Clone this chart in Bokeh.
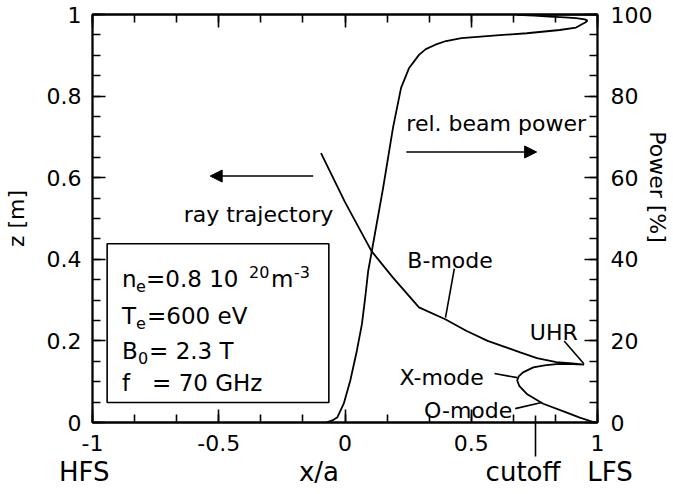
from bokeh.plotting import figure
from bokeh.models import (Range1d, LinearAxis, SingleIntervalTicker, FixedTicker, Label,
                          Arrow, NormalHead, BoxAnnotation)
from bokeh.embed import file_html
from bokeh.resources import INLINE

# ---------------- data ----------------
# ray trajectory (x/a, z[m]) from LFS: O-mode -> cutoff -> X-mode -> UHR -> B-mode
ray_x = [0.99, 0.93, 0.876, 0.785, 0.72, 0.69, 0.682, 0.688, 0.705, 0.746, 0.79, 0.837, 0.90, 0.947,
         0.90, 0.837, 0.76, 0.694, 0.565, 0.48, 0.397, 0.293, 0.19, 0.105, 0.0, -0.095]
ray_z = [0.0, 0.012, 0.025, 0.046, 0.07, 0.09, 0.103, 0.113, 0.123, 0.135, 0.140, 0.143, 0.143, 0.142,
         0.145, 0.148, 0.158, 0.172, 0.20, 0.225, 0.253, 0.282, 0.355, 0.42, 0.54, 0.66]

# relative beam power (x/a, %) along the ray
pow_x = [1.0, 0.85, 0.68, 0.75, 0.81, 0.87, 0.915, 0.95, 0.96, 0.953, 0.915, 0.85, 0.72, 0.60,
         0.461, 0.40, 0.358, 0.32, 0.293, 0.254, 0.222, 0.19, 0.151, 0.105, 0.092, 0.080, 0.067,
         0.047, 0.021, -0.005, -0.03, -0.05, -0.075]
pow_p = [100, 100, 99.9, 99.7, 99.5, 99.3, 99.1, 98.8, 98.5, 98.1, 96.8, 96.2, 95.4, 94.9,
         94.2, 93.5, 92.6, 91.5, 90.1, 86.9, 82.0, 72.2, 57.5, 41.6, 37.2, 30.6, 24.1,
         17.6, 10.3, 4.6, 1.3, 0.5, 0.0]

x_ticks = [-1, -0.5, 0, 0.5, 1]
x_tick_labels = ["-1", "-0.5", "0", "0.5", "1"]
z_ticks = [0, 0.2, 0.4, 0.6, 0.8, 1]
z_tick_labels = ["0", "0.2", "0.4", "0.6", "0.8", "1"]
p_ticks = [0, 20, 40, 60, 80, 100]
p_tick_labels = ["0", "20", "40", "60", "80", "100"]

# second row under the x axis
NB = "\u00a0"
side_pos = [-1, -0.103, 0.705, 1]
side_labels = ["HFS" + NB * 2, "x/a", "cutoff", NB * 3 + "LFS"]
cutoff_x = [0.755]

FONT = "DejaVu Sans"
FS = "22px"
BFS = "23px"
SFS = "16px"

p = figure(width=673, height=494, x_range=Range1d(-1, 1), y_range=Range1d(0, 1),
           output_backend="svg", toolbar_location=None,
           min_border_left=87, min_border_right=71, min_border_top=14, min_border_bottom=72)
p.grid.visible = False
p.outline_line_color = "black"
p.outline_line_width = 1.8
p.background_fill_color = "white"
p.border_fill_color = "white"
p.extra_y_ranges = {"power": Range1d(0, 100)}


def style(ax, labels=True):
    ax.axis_line_width = 1.8
    ax.axis_line_color = "black"
    ax.major_tick_in = 13
    ax.major_tick_out = 0
    ax.minor_tick_in = 8
    ax.minor_tick_out = 0
    ax.major_tick_line_width = 1.6
    ax.minor_tick_line_width = 1.6
    ax.major_tick_line_color = "black"
    ax.minor_tick_line_color = "black"
    ax.major_label_text_font = FONT
    ax.major_label_text_font_size = FS
    ax.major_label_text_color = "black" if labels else None
    ax.axis_label_text_font = FONT
    ax.axis_label_text_font_size = FS
    ax.axis_label_text_font_style = "normal"
    ax.axis_label_text_color = "black"


# bottom frame ticks (no labels)
xa = p.xaxis[0]
xa.ticker = SingleIntervalTicker(interval=0.5, num_minor_ticks=3)
style(xa, labels=False)
xa.major_label_standoff = 0

# x tick labels
xb = LinearAxis(ticker=FixedTicker(ticks=x_ticks, minor_ticks=[]))
xb.major_label_overrides = dict(zip(x_ticks, x_tick_labels))
style(xb)
xb.axis_line_color = None
xb.major_tick_line_color = None
xb.minor_tick_line_color = None
xb.major_tick_in = 0
xb.minor_tick_in = 0
xb.major_label_standoff = 12
p.add_layout(xb, "below")

# HFS / x/a / cutoff / LFS row; the cutoff marker is an inward minor tick reaching the frame
xs = LinearAxis(ticker=FixedTicker(ticks=side_pos, minor_ticks=cutoff_x))
xs.major_label_overrides = dict(zip(side_pos, side_labels))
style(xs)
xs.axis_line_color = None
xs.major_tick_line_color = None
xs.minor_tick_line_color = "black"
xs.minor_tick_line_width = 1.6
xs.major_tick_in = 0
xs.minor_tick_in = 38
xs.minor_tick_out = 3
xs.major_label_standoff = 0
xs.major_label_text_font_size = "26px"
p.add_layout(xs, "below")

yl = p.yaxis[0]
yl.ticker = SingleIntervalTicker(interval=0.2, num_minor_ticks=4)
yl.major_label_overrides = dict(zip(z_ticks, z_tick_labels))
style(yl)
yl.major_label_standoff = 11
yl.axis_label = "z [m]"
yl.axis_label_standoff = 15

xt = LinearAxis(ticker=SingleIntervalTicker(interval=0.5, num_minor_ticks=3))
style(xt, labels=False)
xt.major_label_standoff = 0
p.add_layout(xt, "above")

yr = LinearAxis(y_range_name="power", ticker=SingleIntervalTicker(interval=20, num_minor_ticks=4))
yr.major_label_overrides = dict(zip(p_ticks, p_tick_labels))
style(yr)
yr.major_label_standoff = 13
yr.axis_label = "Power [%]" + NB * 9
yr.axis_label_standoff = -10
p.add_layout(yr, "right")

# curves
p.line(ray_x, ray_z, line_color="black", line_width=1.8)
p.line(pow_x, pow_p, line_color="black", line_width=1.8, y_range_name="power")

# parameter box
p.add_layout(BoxAnnotation(left=-0.942, right=-0.064, bottom=0.049, top=0.438,
                           fill_alpha=0, line_color="black", line_alpha=1.0, line_width=1.6))


def lab(text, x, y, dx=0, dy=0, size=FS, align="left"):
    p.add_layout(Label(x=x, y=y, x_offset=dx, y_offset=dy, text=text, text_font=FONT,
                       text_font_size=size, text_color="black", text_align=align,
                       text_baseline="alphabetic"))


bx = -0.883
# line 1: n_e=0.8 10^20 m^-3
lab("n", bx, 0.352, size=BFS)
lab("e", bx, 0.352, dx=14, dy=-7, size=SFS)
lab("=0.8 10", bx, 0.352, dx=24, size=BFS)
lab("20", bx, 0.352, dx=127, dy=7, size=SFS)
lab("m", bx, 0.352, dx=149, size=BFS)
lab("-3", bx, 0.352, dx=172, dy=7, size=SFS)
# line 2
lab("T", bx, 0.262, size=BFS)
lab("e", bx, 0.262, dx=14, dy=-7, size=SFS)
lab("=600 eV", bx, 0.262, dx=25, size=BFS)
# line 3
lab("B", bx, 0.176, size=BFS)
lab("0", bx, 0.176, dx=16, dy=-7, size=SFS)
lab("= 2.3 T", bx, 0.176, dx=27, size=BFS)
# line 4
lab("f", bx, 0.098, size=BFS)
lab("= 70 GHz", bx, 0.098, dx=30, size=BFS)

# annotations inside the frame
lab("ray trajectory", -0.639, 0.509)
lab("rel. beam power", 0.243, 0.733)
lab("B-mode", 0.247, 0.398)
lab("UHR", 0.732, 0.220)
lab("X-mode", 0.216, 0.110)
lab("O-mode", 0.313, 0.029)

p.add_layout(Arrow(x_start=-0.126, y_start=0.604, x_end=-0.534, y_end=0.604, line_width=1.6,
                   end=NormalHead(size=12, fill_color="black", line_color="black")))
p.add_layout(Arrow(x_start=0.243, y_start=0.663, x_end=0.759, y_end=0.663, line_width=1.6,
                   end=NormalHead(size=12, fill_color="black", line_color="black")))

# leader lines
lead_x0 = [0.433, 0.868, 0.592, 0.674]
lead_z0 = [0.377, 0.200, 0.120, 0.034]
lead_x1 = [0.398, 0.946, 0.682, 0.779]
lead_z1 = [0.257, 0.144, 0.110, 0.049]
p.segment(lead_x0, lead_z0, lead_x1, lead_z1, line_color="black", line_width=1.6)

open("out.html", "w").write(file_html(p, INLINE))
